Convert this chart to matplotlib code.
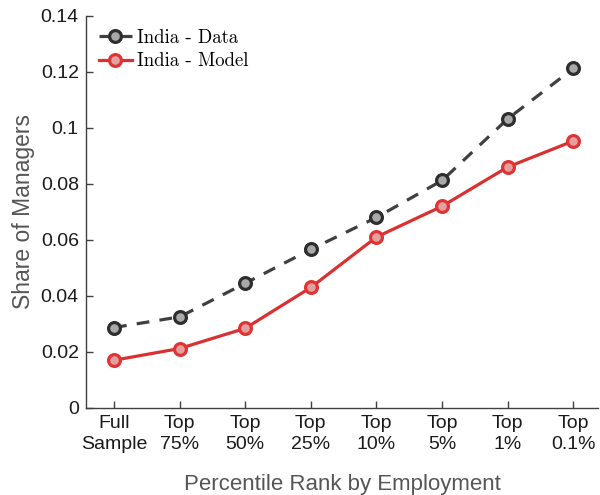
import matplotlib
matplotlib.use("Agg")
import matplotlib.pyplot as plt

# Share of managers by percentile rank of firm employment
categories = ["Full\nSample", "Top\n75%", "Top\n50%", "Top\n25%", "Top\n10%", "Top\n5%", "Top\n1%", "Top\n0.1%"]
india_data = [0.0287, 0.0325, 0.0445, 0.0566, 0.0680, 0.0812, 0.1032, 0.1212]
india_model = [0.0170, 0.0212, 0.0284, 0.0430, 0.0610, 0.0720, 0.0860, 0.0953]

plt.rcParams['font.family'] = ['Liberation Sans', 'DejaVu Sans']

fig = plt.figure(figsize=(6, 4.95), dpi=100)
ax = fig.add_axes([0.143, 0.176, 0.854, 0.792])

x = list(range(1, len(categories) + 1))
ax.plot(x, india_data, color='#404040', linestyle=(0, (4, 3.2)), linewidth=2.3,
        marker='o', markersize=8.5, markerfacecolor='#a9a9a9',
        markeredgecolor='#2e2e2e', markeredgewidth=2.3, label='India - Data')
ax.plot(x, india_model, color='#d93030', linestyle='-', linewidth=2.3,
        marker='o', markersize=8.5, markerfacecolor='#e4a0a0',
        markeredgecolor='#e03434', markeredgewidth=2.3, label='India - Model')

ax.set_xlim(0.57, 8.38)
ax.set_ylim(0, 0.14)
ax.set_xticks(x)
ax.set_xticklabels(categories, linespacing=1.3)
ax.set_yticks([0, 0.02, 0.04, 0.06, 0.08, 0.1, 0.12, 0.14])
ax.set_yticklabels(['0', '0.02', '0.04', '0.06', '0.08', '0.1', '0.12', '0.14'])

for side in ['top', 'right']:
    ax.spines[side].set_visible(False)
for side in ['left', 'bottom']:
    ax.spines[side].set_color('#404040')
    ax.spines[side].set_linewidth(1.0)

ax.tick_params(direction='in', length=5, width=1, colors='#404040',
               labelsize=14, labelcolor='#1a1a1a', pad=5)

ax.set_xlabel('Percentile Rank by Employment', fontsize=16, color='#555555', labelpad=15)
ax.set_ylabel('Share of Managers', fontsize=16.5, color='#555555', labelpad=4)

leg = ax.legend(loc='upper left', frameon=False, prop={'family': 'cmr10', 'size': 13.5},
                handlelength=1.75, handletextpad=0.3, labelspacing=0.3,
                borderaxespad=0.3, bbox_to_anchor=(0.0, 1.0))

fig.savefig('out.png', dpi=100)
